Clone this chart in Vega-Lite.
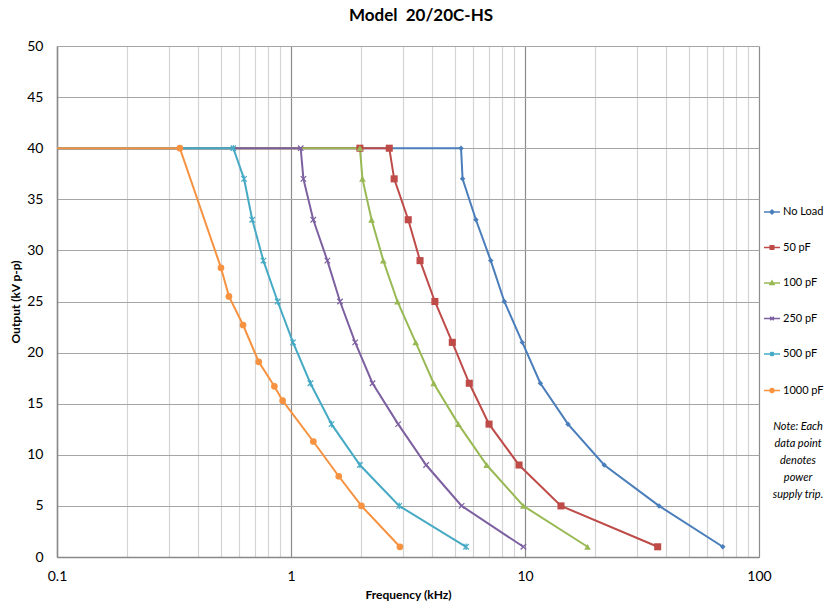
{
  "$schema": "https://vega.github.io/schema/vega-lite/v6.json",
  "width": 702,
  "height": 511,
  "autosize": {"type": "none"},
  "padding": {"left": 57, "top": 46, "right": 65, "bottom": 46},
  "background": "white",
  "config": {
    "font": "Lato",
    "view": {"stroke": null},
    "axis": {"labelFont": "Lato", "titleFont": "Lato"}
  },
  "title": {
    "text": "Model \u00a020/20C-HS",
    "font": "Lato",
    "fontSize": 17,
    "fontWeight": "bold",
    "color": "#000000",
    "anchor": "middle",
    "dx": 13,
    "offset": 14
  },
  "data": {
    "values": [
      {"s": "No Load", "f": 0.1, "v": 40, "m": 0},
      {"s": "No Load", "f": 5.33, "v": 40, "m": 1},
      {"s": "No Load", "f": 5.41, "v": 37, "m": 1},
      {"s": "No Load", "f": 6.17, "v": 33, "m": 1},
      {"s": "No Load", "f": 7.14, "v": 29, "m": 1},
      {"s": "No Load", "f": 8.16, "v": 25, "m": 1},
      {"s": "No Load", "f": 9.74, "v": 21, "m": 1},
      {"s": "No Load", "f": 11.63, "v": 17, "m": 1},
      {"s": "No Load", "f": 15.27, "v": 13, "m": 1},
      {"s": "No Load", "f": 21.8, "v": 9, "m": 1},
      {"s": "No Load", "f": 37.4, "v": 5, "m": 1},
      {"s": "No Load", "f": 70.0, "v": 1, "m": 1},
      {"s": "50 pF", "f": 0.1, "v": 40, "m": 0},
      {"s": "50 pF", "f": 1.97, "v": 40, "m": 1},
      {"s": "50 pF", "f": 2.63, "v": 40, "m": 1},
      {"s": "50 pF", "f": 2.76, "v": 37, "m": 1},
      {"s": "50 pF", "f": 3.17, "v": 33, "m": 1},
      {"s": "50 pF", "f": 3.56, "v": 29, "m": 1},
      {"s": "50 pF", "f": 4.12, "v": 25, "m": 1},
      {"s": "50 pF", "f": 4.89, "v": 21, "m": 1},
      {"s": "50 pF", "f": 5.78, "v": 17, "m": 1},
      {"s": "50 pF", "f": 7.02, "v": 13, "m": 1},
      {"s": "50 pF", "f": 9.43, "v": 9, "m": 1},
      {"s": "50 pF", "f": 14.25, "v": 5, "m": 1},
      {"s": "50 pF", "f": 36.9, "v": 1, "m": 1},
      {"s": "100 pF", "f": 0.1, "v": 40, "m": 0},
      {"s": "100 pF", "f": 1.97, "v": 40, "m": 1},
      {"s": "100 pF", "f": 2.02, "v": 37, "m": 1},
      {"s": "100 pF", "f": 2.21, "v": 33, "m": 1},
      {"s": "100 pF", "f": 2.48, "v": 29, "m": 1},
      {"s": "100 pF", "f": 2.85, "v": 25, "m": 1},
      {"s": "100 pF", "f": 3.41, "v": 21, "m": 1},
      {"s": "100 pF", "f": 4.07, "v": 17, "m": 1},
      {"s": "100 pF", "f": 5.19, "v": 13, "m": 1},
      {"s": "100 pF", "f": 6.86, "v": 9, "m": 1},
      {"s": "100 pF", "f": 9.84, "v": 5, "m": 1},
      {"s": "100 pF", "f": 18.5, "v": 1, "m": 1},
      {"s": "250 pF", "f": 0.1, "v": 40, "m": 0},
      {"s": "250 pF", "f": 1.10, "v": 40, "m": 1},
      {"s": "250 pF", "f": 1.13, "v": 37, "m": 1},
      {"s": "250 pF", "f": 1.245, "v": 33, "m": 1},
      {"s": "250 pF", "f": 1.43, "v": 29, "m": 1},
      {"s": "250 pF", "f": 1.62, "v": 25, "m": 1},
      {"s": "250 pF", "f": 1.88, "v": 21, "m": 1},
      {"s": "250 pF", "f": 2.23, "v": 17, "m": 1},
      {"s": "250 pF", "f": 2.87, "v": 13, "m": 1},
      {"s": "250 pF", "f": 3.78, "v": 9, "m": 1},
      {"s": "250 pF", "f": 5.36, "v": 5, "m": 1},
      {"s": "250 pF", "f": 9.84, "v": 1, "m": 1},
      {"s": "500 pF", "f": 0.1, "v": 40, "m": 0},
      {"s": "500 pF", "f": 0.567, "v": 40, "m": 1},
      {"s": "500 pF", "f": 0.630, "v": 37, "m": 1},
      {"s": "500 pF", "f": 0.683, "v": 33, "m": 1},
      {"s": "500 pF", "f": 0.762, "v": 29, "m": 1},
      {"s": "500 pF", "f": 0.877, "v": 25, "m": 1},
      {"s": "500 pF", "f": 1.02, "v": 21, "m": 1},
      {"s": "500 pF", "f": 1.21, "v": 17, "m": 1},
      {"s": "500 pF", "f": 1.49, "v": 13, "m": 1},
      {"s": "500 pF", "f": 1.97, "v": 9, "m": 1},
      {"s": "500 pF", "f": 2.90, "v": 5, "m": 1},
      {"s": "500 pF", "f": 5.60, "v": 1, "m": 1},
      {"s": "1000 pF", "f": 0.1, "v": 40, "m": 0},
      {"s": "1000 pF", "f": 0.335, "v": 40, "m": 1},
      {"s": "1000 pF", "f": 0.502, "v": 28.3, "m": 1},
      {"s": "1000 pF", "f": 0.543, "v": 25.5, "m": 1},
      {"s": "1000 pF", "f": 0.624, "v": 22.7, "m": 1},
      {"s": "1000 pF", "f": 0.728, "v": 19.1, "m": 1},
      {"s": "1000 pF", "f": 0.849, "v": 16.7, "m": 1},
      {"s": "1000 pF", "f": 0.921, "v": 15.3, "m": 1},
      {"s": "1000 pF", "f": 1.246, "v": 11.3, "m": 1},
      {"s": "1000 pF", "f": 1.60, "v": 7.9, "m": 1},
      {"s": "1000 pF", "f": 2.00, "v": 5, "m": 1},
      {"s": "1000 pF", "f": 2.92, "v": 1, "m": 1}
    ]
  },
  "encoding": {
    "x": {
      "field": "f",
      "type": "quantitative",
      "scale": {"type": "log", "domain": [0.1, 100], "nice": false},
      "axis": {
        "title": "Frequency (kHz)",
        "titleFontSize": 12,
        "titleFontWeight": "bold",
        "titleColor": "#000000",
        "titlePadding": 6,
        "values": [0.1,0.2,0.3,0.4,0.5,0.6,0.7,0.8,0.9,1,2,3,4,5,6,7,8,9,10,20,30,40,50,60,70,80,90,100],
        "format": "~g",
        "labelExpr": "(abs(log(datum.value)/LN10 - round(log(datum.value)/LN10)) < 1e-6) ? datum.label : ''",
        "labelFlush": false,
        "labelOverlap": false,
        "labelFontSize": 14,
        "labelColor": "#000000",
        "labelPadding": 12,
        "ticks": false,
        "tickSize": 0,
        "domainColor": "#888888",
        "domainWidth": 1.5,
        "grid": true,
        "gridColor": {
          "condition": {"test": "abs(log(datum.value)/LN10 - round(log(datum.value)/LN10)) < 1e-6", "value": "#8c8c8c"},
          "value": "#d4d4d4"
        },
        "gridWidth": 1.2
      }
    },
    "y": {
      "field": "v",
      "type": "quantitative",
      "scale": {"domain": [0, 50], "nice": false},
      "axis": {
        "title": "Output (kV p-p)",
        "titleFontSize": 12,
        "titleFontWeight": "bold",
        "titleColor": "#000000",
        "titlePadding": 4,
        "values": [0,5,10,15,20,25,30,35,40,45,50],
        "labelFontSize": 14,
        "labelColor": "#000000",
        "labelPadding": 14,
        "labelFlush": false,
        "ticks": false,
        "tickSize": 0,
        "domainColor": "#888888",
        "domainWidth": 1.5,
        "gridColor": "#a6a6a6",
        "gridWidth": 1.2
      }
    },
    "color": {
      "field": "s",
      "type": "nominal",
      "sort": null,
      "scale": {
        "domain": ["No Load", "50 pF", "100 pF", "250 pF", "500 pF", "1000 pF"],
        "range": ["#4A7EBB", "#BE4B48", "#98B954", "#7D60A0", "#46AAC5", "#F69240"]
      },
      "legend": {
        "title": null,
        "orient": "none",
        "legendX": 706,
        "legendY": 157,
        "padding": 0,
        "symbolSize": 256,
        "labelFontSize": 11,
        "labelFont": "Lato",
        "labelColor": "#000000",
        "labelOffset": 2,
        "rowPadding": 21.5,
        "symbolStrokeWidth": 1.5,
        "symbolType": "M-1,0L1,0",
        "encode": {
          "symbols": {
            "update": {
              "shape": {"signal": "datum.value === 'No Load' ? 'M-1,0L1,0M0,-0.25L0.25,0L0,0.25L-0.25,0Z' : datum.value === '50 pF' ? 'M-1,0L1,0M-0.22,-0.22L0.22,-0.22L0.22,0.22L-0.22,0.22Z' : datum.value === '100 pF' ? 'M-1,0L1,0M0,-0.26L0.26,0.2L-0.26,0.2Z' : datum.value === '250 pF' ? 'M-1,0L1,0M-0.22,-0.22L0.22,0.22M-0.22,0.22L0.22,-0.22' : datum.value === '500 pF' ? 'M-1,0L1,0M-0.22,-0.22L0.22,0.22M-0.22,0.22L0.22,-0.22M0,-0.28L0,0.28' : 'M-1,0L1,0M-0.24,0A0.24,0.24,0,1,1,0.24,0A0.24,0.24,0,1,1,-0.24,0Z'"},
              "fill": {"signal": "datum.value === '250 pF' || datum.value === '500 pF' ? 'transparent' : scale('color', datum.value)"},
              "stroke": {"signal": "scale('color', datum.value)"},
              "strokeWidth": {"value": 1.5},
              "opacity": {"value": 1}
            }
          }
        }
      }
    }
  },
  "layer": [
    {
      "mark": {"type": "line", "strokeWidth": 2}
    },
    {
      "transform": [{"filter": "datum.m === 1 && datum.s === 'No Load'"}],
      "mark": {"type": "point", "shape": "diamond", "filled": true, "opacity": 1, "size": 30}
    },
    {
      "transform": [{"filter": "datum.m === 1 && datum.s === '50 pF'"}],
      "mark": {"type": "point", "shape": "square", "filled": true, "opacity": 1, "size": 50}
    },
    {
      "transform": [{"filter": "datum.m === 1 && datum.s === '100 pF'"}],
      "mark": {"type": "point", "shape": "triangle-up", "filled": true, "opacity": 1, "size": 45}
    },
    {
      "transform": [{"filter": "datum.m === 1 && datum.s === '250 pF'"}],
      "mark": {"type": "point", "shape": "M-1,-1L1,1M-1,1L1,-1", "filled": false, "opacity": 1, "size": 30, "strokeWidth": 1.2}
    },
    {
      "transform": [{"filter": "datum.m === 1 && datum.s === '500 pF'"}],
      "mark": {"type": "point", "shape": "M-1,-1L1,1M-1,1L1,-1M0,-1.2L0,1.2", "filled": false, "opacity": 1, "size": 30, "strokeWidth": 1.2}
    },
    {
      "transform": [{"filter": "datum.m === 1 && datum.s === '1000 pF'"}],
      "mark": {"type": "point", "shape": "circle", "filled": true, "opacity": 1, "size": 45}
    },
    {
      "data": {"values": [{"f": 146.8, "v": 13.3, "t": "Note: Each\ndata point\ndenotes\npower\nsupply trip."}]},
      "mark": {"type": "text", "font": "Lato", "fontSize": 11, "fontStyle": "italic", "align": "center", "baseline": "top", "lineBreak": "\n", "lineHeight": 17, "color": "#000000"},
      "encoding": {
        "color": {"value": "#000000"},
        "text": {"field": "t", "type": "nominal"}
      }
    }
  ]
}
